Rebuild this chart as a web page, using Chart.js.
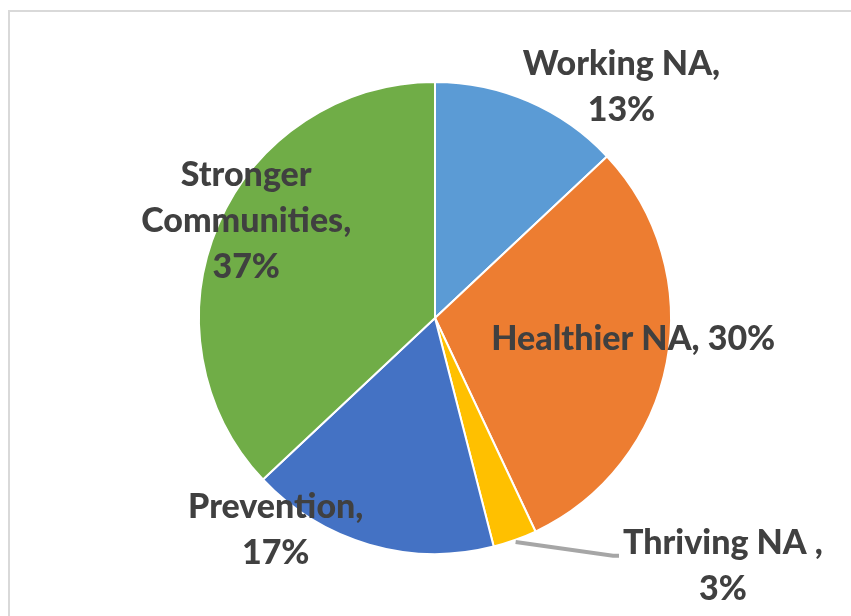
<!DOCTYPE html>
<html>
<head>
<meta charset="utf-8">
<script src="https://cdn.jsdelivr.net/npm/chart.js@4"></script>
<style>
  body { margin: 0; background: #fff; overflow: hidden; }
  #wrap { position: relative; width: 851px; height: 616px; }
  #frame { position: absolute; left: 8px; top: 10px; width: 900px; height: 700px; border: 2px solid #d9d9d9; }
  canvas { position: absolute; left: 0; top: 0; }
</style>
</head>
<body>
<div id="wrap">
  <div id="frame"></div>
  <canvas id="myChart" width="851" height="616"></canvas>
</div>
<script>
// chart data
const categories = ['Working NA', 'Healthier NA', 'Thriving NA ', 'Prevention', 'Stronger Communities'];
const shares = [13, 30, 3, 17, 37];
const sliceColors = ['#5B9BD5', '#ED7D31', '#FFC000', '#4472C4', '#70AD47'];

// where each data label sits, as a fraction of the radius from the centre
// wrap: split name and percentage on two lines (Excel wrapped them)
const labelPlacement = [
    { fx: 0.79, fy: -0.98, wrap: true },
    { fx: 0.84, fy: 0.09, wrap: false },
    { fx: 1.22, fy: 1.05, wrap: true, leader: true },
    { fx: -0.675, fy: 0.90, wrap: true },
    { fx: -0.80, fy: -0.41, wrap: true, split: ['Stronger', 'Communities,'] }
];

const labelFont = '900 34px Lato';
const lineHeight = 46;

const dataLabels = {
    id: 'dataLabels',
    afterDatasetsDraw(chart) {
        const ctx = chart.ctx;
        const meta = chart.getDatasetMeta(0);
        const total = shares.reduce((a, b) => a + b, 0);
        ctx.save();
        ctx.font = labelFont;
        ctx.fillStyle = '#404040';
        ctx.textAlign = 'center';
        ctx.textBaseline = 'middle';
        meta.data.forEach((arc, i) => {
            const p = labelPlacement[i];
            const r = arc.outerRadius;
            const cx = arc.x + p.fx * r;
            const cy = arc.y + p.fy * r;
            const pct = Math.round(shares[i] / total * 100) + '%';
            let lines;
            if (p.split) lines = p.split.concat([pct]);
            else if (p.wrap) lines = [categories[i] + ',', pct];
            else lines = [categories[i] + ', ' + pct];
            const top = cy - (lines.length - 1) * lineHeight / 2;
            lines.forEach((t, k) => ctx.fillText(t, cx, top + k * lineHeight));

            if (p.leader) {
                // gray leader line from the slice edge to the label
                const mid = (arc.startAngle + arc.endAngle) / 2;
                const sx = arc.x + Math.cos(mid) * (r + 2);
                const sy = arc.y + Math.sin(mid) * (r + 2);
                const w = ctx.measureText(lines[0]).width;
                const ex = cx - w / 2 - 4;
                const ey = top + 13;
                ctx.strokeStyle = '#a6a6a6';
                ctx.lineWidth = 4;
                ctx.lineCap = 'butt';
                ctx.beginPath();
                ctx.moveTo(sx, sy);
                ctx.lineTo(ex - 6, ey);
                ctx.lineTo(ex, ey);
                ctx.stroke();
            }
        });
        ctx.restore();
    }
};

new Chart(document.getElementById('myChart'), {
    type: 'pie',
    data: {
        labels: categories,
        datasets: [{
            data: shares,
            backgroundColor: sliceColors,
            borderColor: '#ffffff',
            borderWidth: 2
        }]
    },
    options: {
        responsive: false,
        animation: false,
        layout: { padding: { left: 198, right: 179, top: 81, bottom: 61 } },
        plugins: {
            legend: { display: false },
            tooltip: { enabled: false }
        }
    },
    plugins: [dataLabels]
});
</script>
</body>
</html>
